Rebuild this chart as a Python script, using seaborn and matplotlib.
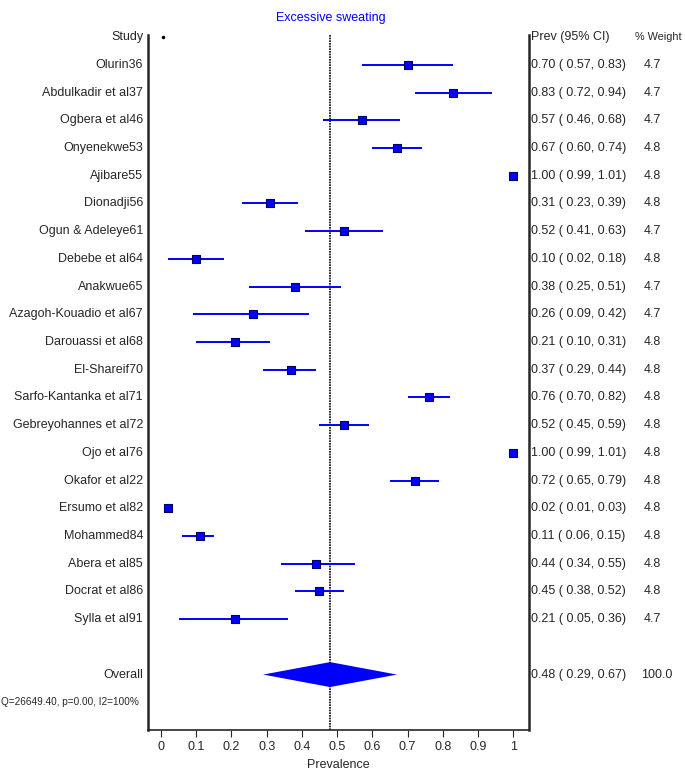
import numpy as np
import pandas as pd
import matplotlib
matplotlib.use("Agg")
import matplotlib.pyplot as plt
import seaborn as sns

studies = ["Olurin36", "Abdulkadir et al37", "Ogbera et al46", "Onyenekwe53", "Ajibare55",
           "Dionadji56", "Ogun & Adeleye61", "Debebe et al64", "Anakwue65",
           "Azagoh-Kouadio et al67", "Darouassi et al68", "El-Shareif70",
           "Sarfo-Kantanka et al71", "Gebreyohannes et al72", "Ojo et al76",
           "Okafor et al22", "Ersumo et al82", "Mohammed84", "Abera et al85",
           "Docrat et al86", "Sylla et al91"]
prev = [0.70, 0.83, 0.57, 0.67, 1.00, 0.31, 0.52, 0.10, 0.38, 0.26, 0.21, 0.37,
        0.76, 0.52, 1.00, 0.72, 0.02, 0.11, 0.44, 0.45, 0.21]
lower = [0.57, 0.72, 0.46, 0.60, 0.99, 0.23, 0.41, 0.02, 0.25, 0.09, 0.10, 0.29,
         0.70, 0.45, 0.99, 0.65, 0.01, 0.06, 0.34, 0.38, 0.05]
upper = [0.83, 0.94, 0.68, 0.74, 1.01, 0.39, 0.63, 0.18, 0.51, 0.42, 0.31, 0.44,
         0.82, 0.59, 1.01, 0.79, 0.03, 0.15, 0.55, 0.52, 0.36]
weight = [4.7, 4.7, 4.7, 4.8, 4.8, 4.8, 4.7, 4.8, 4.7, 4.7, 4.8, 4.8,
          4.8, 4.8, 4.8, 4.8, 4.8, 4.8, 4.8, 4.8, 4.7]
overall = 0.48
overall_ci = (0.29, 0.67)
overall_weight = 100.0
het_text = "Q=26649.40, p=0.00, I2=100%"
xticks = [0, 0.1, 0.2, 0.3, 0.4, 0.5, 0.6, 0.7, 0.8, 0.9, 1]
xticklabels = ["0", "0.1", "0.2", "0.3", "0.4", "0.5", "0.6", "0.7", "0.8", "0.9", "1"]

df = pd.DataFrame({"study": studies, "prev": prev, "lo": lower, "hi": upper, "w": weight})
df["row"] = np.arange(1, len(df) + 1)
overall_row = len(df) + 2
het_row = overall_row + 1

sns.set_style("white")
plt.rcParams['font.family'] = ['Liberation Sans', 'DejaVu Sans']
fs = 9

fig = plt.figure(figsize=(6.85, 7.74), dpi=100)
ax = fig.add_axes([148/685, 1 - 730/774, 381/685, 695/774])

blue = "#0000ff"
ax.hlines(df["row"], df["lo"], df["hi"], color=blue, lw=1.4, zorder=2)
sns.scatterplot(data=df, x="prev", y="row", marker="s", s=28, color=blue,
                edgecolor="#000060", linewidth=0.8, ax=ax, zorder=3, legend=False)

# overall diamond
ax.fill([overall_ci[0], overall, overall_ci[1], overall],
        [overall_row, overall_row - 0.45, overall_row, overall_row + 0.45],
        color=blue, lw=0, zorder=3)

ax.axvline(overall, color="black", lw=1.2, ls=(0, (1, 0.6)), zorder=1)
ax.plot([0.005], [0], marker="o", ms=1.5, color="black")

ax.set_ylim(het_row + 1.0, -0.08)
ax.set_xlim(-0.037, 1.045)
ax.set_xticks(xticks)
ax.set_xticklabels(xticklabels, fontsize=fs)
ax.set_yticks([])
ax.set_xlabel("Prevalence", fontsize=fs, labelpad=4)
ax.set_ylabel("")
ax.tick_params(axis="x", direction="out", length=5, width=0.8, bottom=True, pad=3)
ax.spines["top"].set_visible(False)
for s in ["left", "right"]:
    ax.spines[s].set_linewidth(1.8)
ax.spines["bottom"].set_linewidth(1.2)

tr = ax.get_yaxis_transform()
xl = -0.013
xp = 1.005
xw = 1.30

ax.text(0.48, 1.025, "Excessive sweating", transform=ax.transAxes, color=blue,
        fontsize=fs, ha="center", va="center")
ax.text(xl, 0, "Study", transform=tr, ha="right", va="center", fontsize=fs)
ax.text(xp, 0, "Prev (95% CI)", transform=tr, ha="left", va="center", fontsize=fs)
ax.text(1.279, 0, "% Weight", transform=tr, ha="left", va="center", fontsize=7.8)

for _, r in df.iterrows():
    ax.text(xl, r["row"], r["study"], transform=tr, ha="right", va="center", fontsize=fs)
    ax.text(xp, r["row"], f"{r['prev']:.2f} ( {r['lo']:.2f}, {r['hi']:.2f})",
            transform=tr, ha="left", va="center", fontsize=fs)
    ax.text(xw, r["row"], f"{r['w']:.1f}", transform=tr, ha="left", va="center", fontsize=fs)

ax.text(xl, overall_row, "Overall", transform=tr, ha="right", va="center", fontsize=fs)
ax.text(xp, overall_row, f"{overall:.2f} ( {overall_ci[0]:.2f}, {overall_ci[1]:.2f})",
        transform=tr, ha="left", va="center", fontsize=fs)
ax.text(1.294, overall_row, f"{overall_weight:.1f}", transform=tr, ha="left", va="center", fontsize=fs)
ax.text(-0.024, het_row, het_text, transform=tr, ha="right", va="center", fontsize=7.2)

fig.savefig("out.png", dpi=100)
